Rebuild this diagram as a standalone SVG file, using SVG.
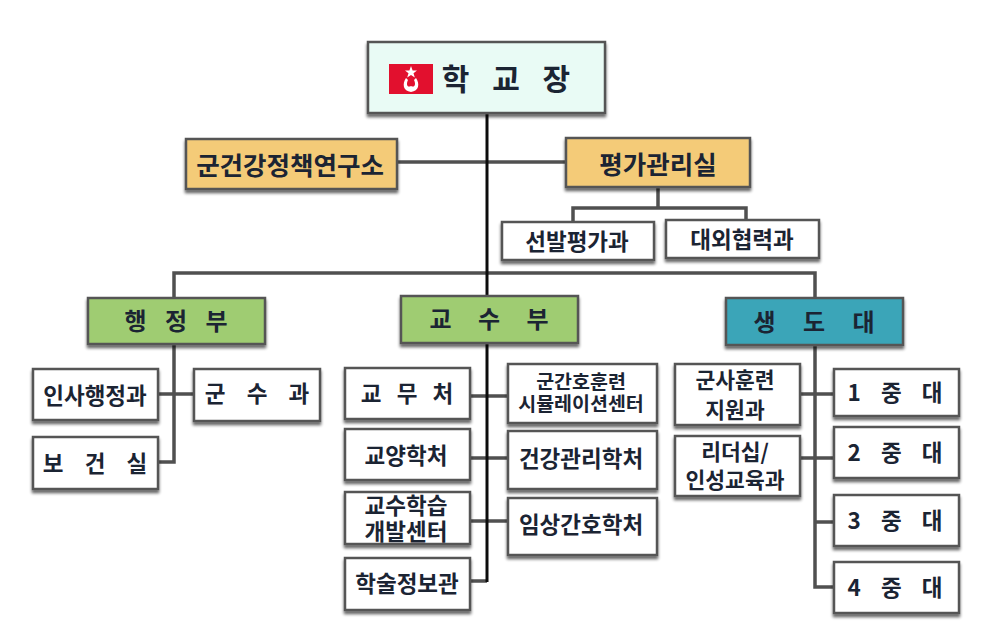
<svg xmlns="http://www.w3.org/2000/svg" width="994" height="640" viewBox="0 0 994 640">
<defs>
<filter id="sh" x="-10%" y="-15%" width="120%" height="135%"><feGaussianBlur in="SourceAlpha" stdDeviation="1.5"/><feOffset dx="0" dy="3"/><feComponentTransfer><feFuncA type="linear" slope="0.6"/></feComponentTransfer><feMerge><feMergeNode/><feMergeNode in="SourceGraphic"/></feMerge></filter>
</defs>
<style>
.b{stroke:#555;stroke-width:2.5;filter:url(#sh)}
.w{fill:#fff}.o{fill:#f4cb78}.g{fill:#9fcc72}.t{fill:#3ba5b8}.m{fill:#e9fbf5}
text{font-family:"Noto Sans CJK KR","Noto Sans",sans-serif;font-weight:700;fill:#1b2433;text-anchor:middle;font-size:22.5px}
.c path{fill:none;stroke:#505050;stroke-width:3.5}
.c path.k{stroke:#0c0c0c;stroke-width:3}
.h{font-size:25.500px}.sm{font-size:19.500px}.md{font-size:21.500px}
.sp{word-spacing:16px}.co{word-spacing:15px}
</style>
<rect width="994" height="640" fill="#fff"/>
<g class="c" id="connectors">
<path d="M397 162H566"/>
<path d="M658 187V208M573 222V208H746V220"/>
<path d="M174 298V273H815V298"/>
<path d="M174 344V462H158M158 394H194"/>
<path d="M470 396H508M470 458H508M470 521H508M470 581H487"/>
<path d="M815 345V587H834M800 394H834M800 458H834M815 522H834"/>
<path class="k" d="M487 113V296M487 343V582"/>
</g>
<g id="n-head"><rect class="b m" x="368" y="42" width="237" height="71"/>
<rect x="389" y="64" width="44" height="30" fill="#e2102e"/>
<polygon points="411,66 412.600,70.500 417,70.500 413.500,73.200 414.800,77.500 411,75 407.200,77.500 408.500,73.200 405,70.500 409.400,70.500" fill="#fff"/>
<path d="M406 78C402 84 403 91 411 92C419 91 420 84 416 78L414 80C416 84 415 88 411 86C407 88 406 84 408 80Z" fill="#fff"/>
<text x="506" y="90" style="font-size:30px;word-spacing:16px">학 교 장</text></g>
<g id="n-research"><rect class="b o" x="186" y="139" width="211" height="50"/><text class="h" x="290" y="175">군건강정책연구소</text></g>
<g id="n-eval"><rect class="b o" x="566" y="138" width="184" height="49"/><text class="h" x="658" y="174">평가관리실</text></g>
<g id="n-sel"><rect class="b w" x="502" y="222" width="152" height="38"/><text x="577" y="250">선발평가과</text></g>
<g id="n-ext"><rect class="b w" x="666" y="220" width="153" height="38"/><text x="742" y="248">대외협력과</text></g>
<g id="n-admin"><rect class="b g" x="88" y="298" width="177" height="46"/><text x="176" y="330" style="font-size:24px;word-spacing:13px">행 정 부</text></g>
<g id="n-prof"><rect class="b g" x="401" y="296" width="177" height="47"/><text x="489" y="328" style="font-size:24px;word-spacing:21px">교 수 부</text></g>
<g id="n-cadet"><rect class="b t" x="726" y="298" width="177" height="47"/><text x="814" y="331" style="font-size:24px;word-spacing:22px">생 도 대</text></g>
<g id="n-hr"><rect class="b w" x="33" y="369" width="125" height="51"/><text x="95" y="404">인사행정과</text></g>
<g id="n-sup"><rect class="b w" x="194" y="369" width="126" height="52"/><text class="sp" x="257" y="402">군 수 과</text></g>
<g id="n-health"><rect class="b w" x="33" y="437" width="125" height="52"/><text class="sp" x="95" y="472">보 건 실</text></g>
<g id="n-aca"><rect class="b w" x="345" y="368" width="125" height="51"/><text x="407" y="402" style="word-spacing:10px">교 무 처</text></g>
<g id="n-lib"><rect class="b w" x="345" y="429" width="125" height="51"/><text x="406" y="464">교양학처</text></g>
<g id="n-tl"><rect class="b w" x="345" y="492" width="125" height="52"/><text x="406" y="514">교수학습<tspan x="406" y="540">개발센터</tspan></text></g>
<g id="n-info"><rect class="b w" x="345" y="558" width="125" height="52"/><text x="407" y="592">학술정보관</text></g>
<g id="n-sim"><rect class="b w" x="508" y="364" width="149" height="59"/><text class="sm" x="581" y="389">군간호훈련<tspan x="581" y="411">시뮬레이션센터</tspan></text></g>
<g id="n-hm"><rect class="b w" x="508" y="431" width="149" height="58"/><text x="581" y="467">건강관리학처</text></g>
<g id="n-cl"><rect class="b w" x="508" y="498" width="149" height="57"/><text x="581" y="533">임상간호학처</text></g>
<g id="n-mil"><rect class="b w" x="675" y="364" width="125" height="61"/><text class="md" x="735" y="388">군사훈련<tspan x="735" y="418">지원과</tspan></text></g>
<g id="n-lead"><rect class="b w" x="675" y="436" width="125" height="60"/><text class="md" x="735" y="460">리더십/<tspan x="735" y="488">인성교육과</tspan></text></g>
<g id="n-c1"><rect class="b w" x="834" y="369" width="125" height="47"/><text class="co" x="895" y="401">1 중 대</text></g>
<g id="n-c2"><rect class="b w" x="834" y="427" width="125" height="51"/><text class="co" x="895" y="461">2 중 대</text></g>
<g id="n-c3"><rect class="b w" x="834" y="495" width="125" height="51"/><text class="co" x="895" y="529">3 중 대</text></g>
<g id="n-c4"><rect class="b w" x="834" y="562" width="125" height="51"/><text class="co" x="895" y="596">4 중 대</text></g>
</svg>
